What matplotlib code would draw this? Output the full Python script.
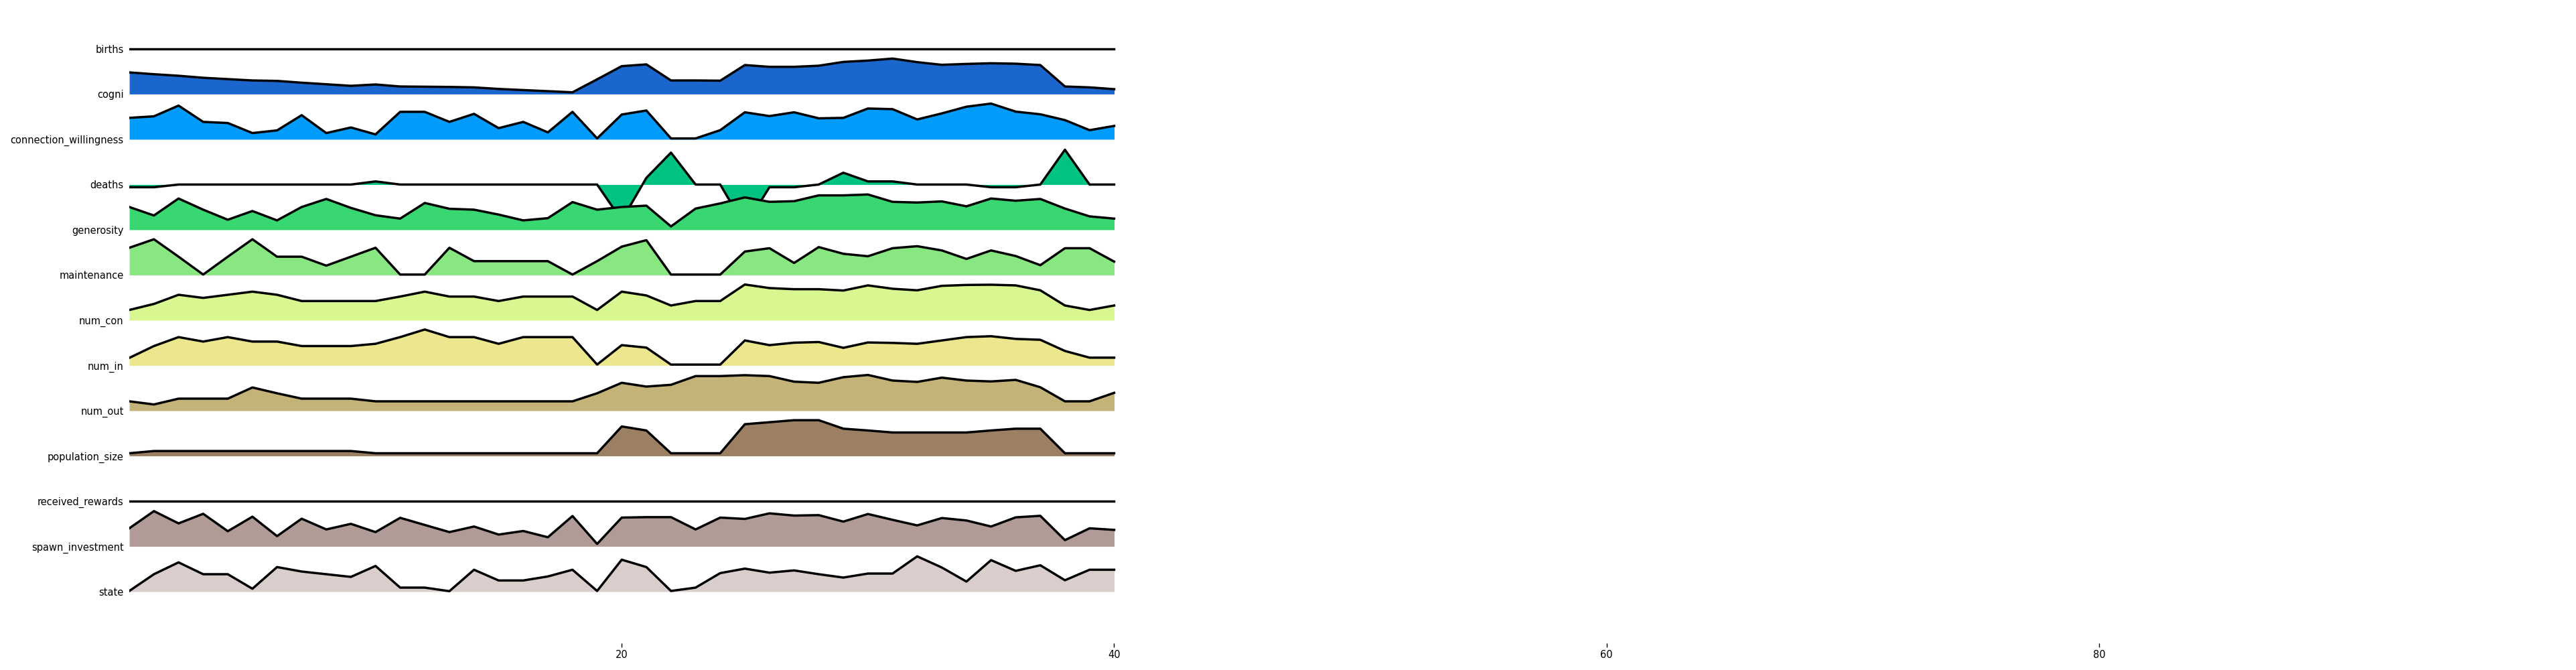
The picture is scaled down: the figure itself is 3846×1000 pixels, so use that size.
import numpy as np
import matplotlib
matplotlib.use("Agg")
import matplotlib.pyplot as plt

steps = list(range(41))
names = ["births", "cogni", "connection_willingness", "deaths", "generosity",
         "maintenance", "num_con", "num_in", "num_out", "population_size",
         "received_rewards", "spawn_investment", "state"]

births = [0]*41
cogni = [97,89,82,73,67,61,59,51,44,37,43,34,33,32,30,23,18,13,8,66,125,133,61,61,60,130,122,122,127,144,150,159,143,131,135,138,136,130,34,30,22]
connection_willingness = [96,103,151,78,73,28,40,108,28,53,22,123,123,78,114,50,78,31,123,4,111,129,4,4,41,121,104,121,94,96,138,135,89,116,146,160,124,112,86,41,60]
deaths = [-12,-12,0,0,0,0,0,0,0,0,14,0,0,0,0,0,0,0,0,0,-160,30,143,0,0,-188,-12,-12,0,53,14,14,0,0,0,-12,-12,0,156,0,0]
generosity = [102,64,140,90,45,84,42,102,138,98,65,50,120,94,90,68,42,52,124,90,102,108,15,95,118,145,125,128,154,154,158,125,122,127,105,140,130,138,95,60,50]
maintenance = [122,160,82,2,82,160,82,82,42,82,122,2,2,122,62,62,62,62,2,62,127,156,2,2,2,105,120,54,125,95,84,120,129,110,72,110,85,44,120,120,60]
num_con = [46,73,114,100,114,128,114,86,86,86,86,106,128,106,106,86,106,106,106,46,128,111,66,86,86,160,144,139,139,133,156,141,134,154,158,159,156,134,66,46,66]
num_in = [34,87,127,107,127,107,107,87,87,87,97,127,161,127,127,97,127,127,127,4,91,80,4,4,4,112,91,102,105,79,103,101,97,112,127,131,119,115,65,35,35]
num_out = [42,28,54,54,54,104,78,54,54,54,42,42,42,42,42,42,42,42,42,78,125,108,116,155,155,159,155,130,125,150,160,135,129,148,135,131,138,105,42,42,80]
population_size = [12,22,22,22,22,22,22,22,22,22,12,12,12,12,12,12,12,12,12,12,132,114,12,12,12,142,151,160,160,122,114,105,105,105,105,114,122,122,12,12,12]
received_rewards = [0]*41
spawn_investment = [81,158,103,146,68,133,46,124,76,101,64,128,96,64,89,53,69,41,136,11,129,131,131,76,129,123,148,138,140,111,145,119,94,127,116,89,130,137,28,81,74]
state = [3,78,131,78,78,13,110,90,78,66,115,18,18,2,98,50,50,68,98,3,143,110,3,18,83,103,85,95,78,63,81,81,158,108,45,141,93,118,51,98,98]

series = [births, cogni, connection_willingness, deaths, generosity, maintenance,
          num_con, num_in, num_out, population_size, received_rewards,
          spawn_investment, state]
xticks = [20, 40, 60, 80]

scale = 1 / 202.5
fig = plt.figure(figsize=(38.46, 10), dpi=100)
ax = fig.add_axes([0.0502, 0.04, 0.93, 0.96])
cmap = plt.cm.terrain
n = len(names)
x = np.array(steps)
for i, (nm, vals) in enumerate(zip(names, series)):
    base = -i
    y = base + np.array(vals) * scale
    col = cmap(i / n)
    ax.fill_between(x, base, y, color=col, zorder=2 * i + 1, lw=0)
    ax.plot(x, y, color="black", lw=2.5, zorder=2 * i + 2)

ax.set_xlim(0, 97.3)
ax.set_ylim(-13.14, 1.08)
ax.set_yticks([-i for i in range(n)])
ax.set_yticklabels(names, fontsize=10.5)
ax.tick_params(axis="y", length=0, pad=6)
ax.set_xticks(xticks)
ax.set_xticklabels([str(t) for t in xticks], fontsize=10.5)
ax.tick_params(axis="x", length=4, width=1)
for s in ax.spines.values():
    s.set_visible(False)
fig.savefig("out.png", dpi=100)
